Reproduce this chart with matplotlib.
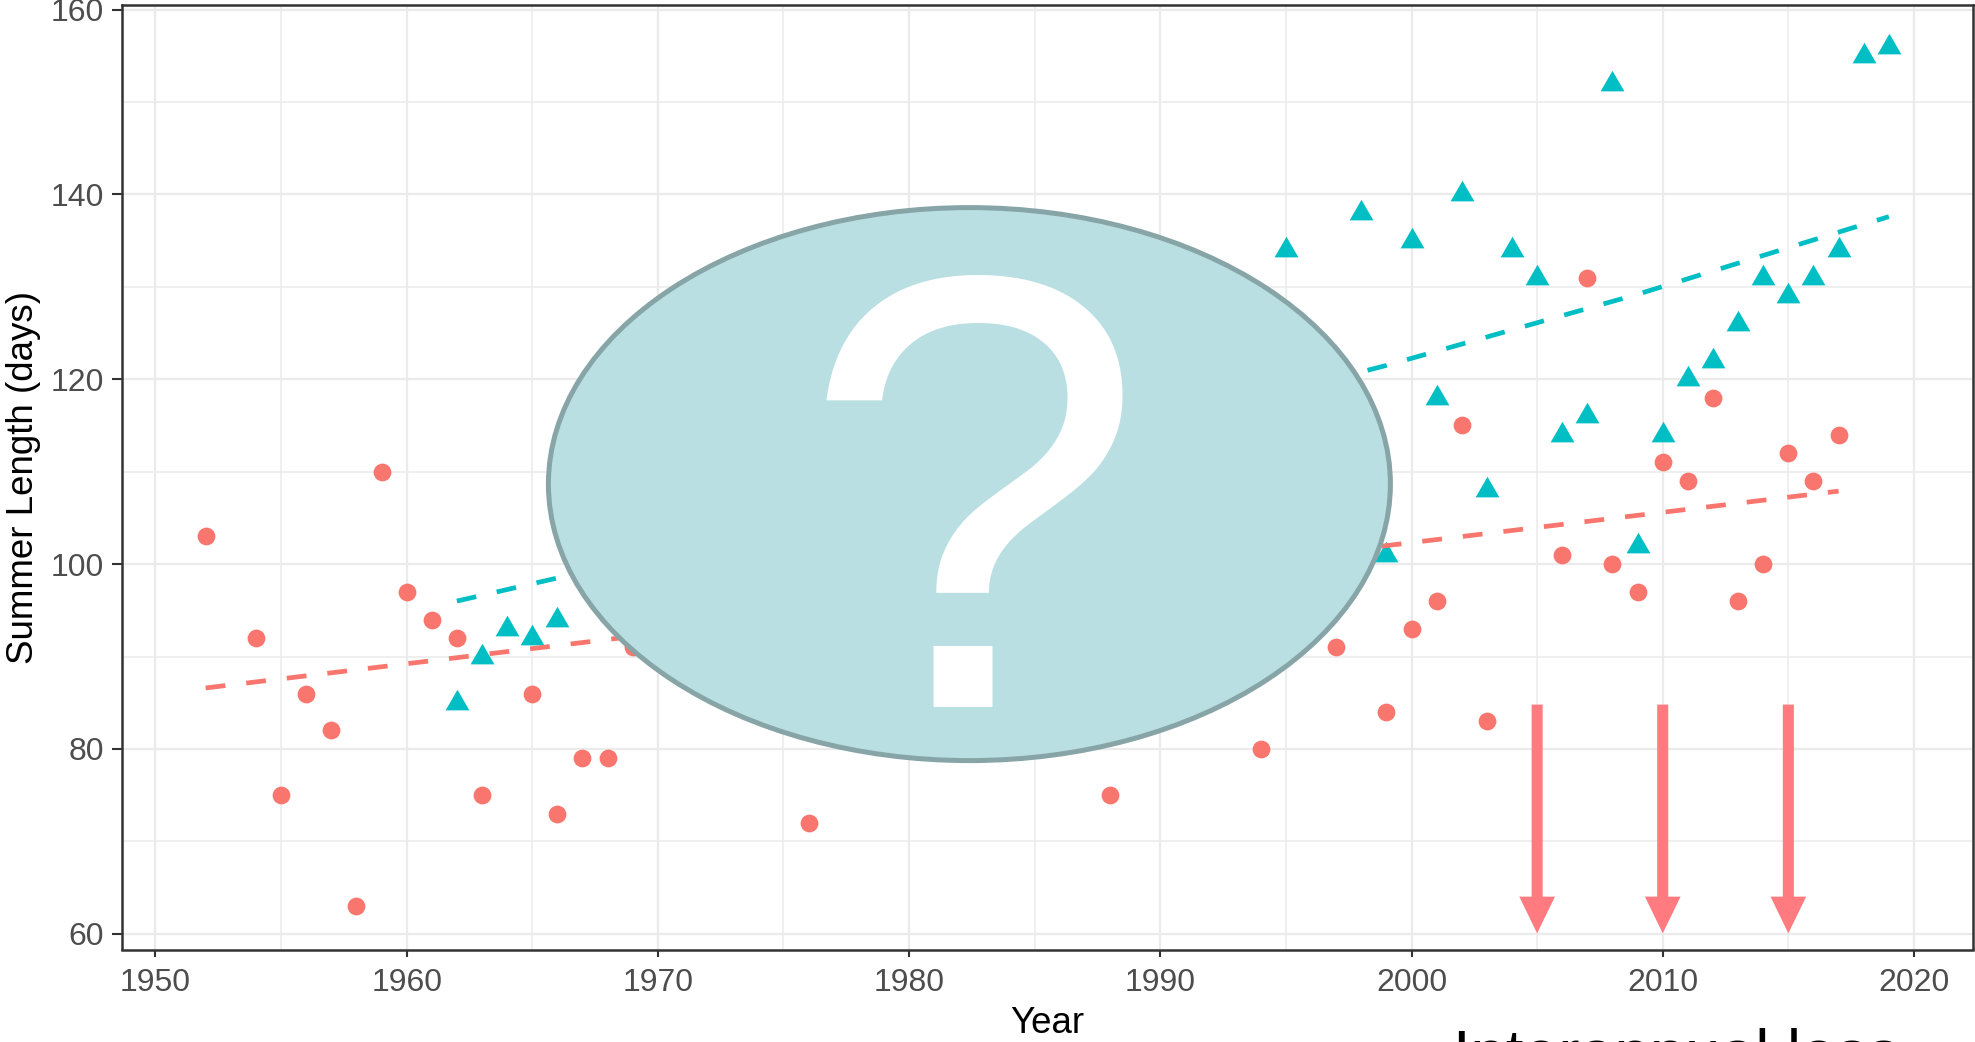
import matplotlib
matplotlib.use('Agg')
import matplotlib.pyplot as plt
from matplotlib.patches import Ellipse

plt.rcParams['font.family'] = ['Liberation Sans', 'DejaVu Sans']

# Summer length per year, two series
red_years = [1952, 1954, 1955, 1956, 1957, 1958, 1959, 1960, 1961, 1962, 1963, 1965,
             1966, 1967, 1968, 1969, 1976, 1988, 1994, 1997, 1999, 2000, 2001, 2002,
             2003, 2006, 2007, 2008, 2009, 2010, 2011, 2012, 2013, 2014, 2015, 2016, 2017]
red_days = [103, 92, 75, 86, 82, 63, 110, 97, 94, 92, 75, 86,
            73, 79, 79, 91, 72, 75, 80, 91, 84, 93, 96, 115,
            83, 101, 131, 100, 97, 111, 109, 118, 96, 100, 112, 109, 114]

teal_years = [1962, 1963, 1964, 1965, 1966, 1995, 1998, 1999, 2000, 2001, 2002, 2003,
              2004, 2005, 2006, 2007, 2008, 2009, 2010, 2011, 2012, 2013, 2014, 2015,
              2016, 2017, 2018, 2019]
teal_days = [85, 90, 93, 92, 94, 134, 138, 101, 135, 118, 140, 108,
             134, 131, 114, 116, 152, 102, 114, 120, 122, 126, 131, 129,
             131, 134, 155, 156]

# trend lines
red_trend_years = [1952, 2017]
red_trend_days = [86.6, 107.9]
teal_trend_years = [1962, 1966, 1999, 2009, 2019]
teal_trend_days = [96.0, 98.5, 121.5, 129.2, 137.6]

# loss arrows
arrow_years = [2005, 2010, 2015]
arrow_top = 84.8
arrow_tip = 60.05

RED = '#F8766D'
TEAL = '#00BFC4'
ARROW = '#FF7B80'
GRID = '#EBEBEB'
DARK = '#333333'

W, H = 1975, 1042
fig = plt.figure(figsize=(W / 100, H / 100), dpi=100)
ax = fig.add_axes([121.5 / W, 1 - 949.5 / H, (1973 - 121.5) / W, (949.5 - 5) / H])

ax.set_xlim(1948.65, 2022.35)
ax.set_ylim(58.3, 160.5)
ax.set_xticks(range(1950, 2021, 10))
ax.set_xticks(range(1955, 2020, 10), minor=True)
ax.set_yticks(range(60, 161, 20))
ax.set_yticks(range(70, 160, 20), minor=True)
ax.grid(True, which='major', color=GRID, lw=1.6)
ax.grid(True, which='minor', color=GRID, lw=1.1)
ax.set_axisbelow(True)
ax.tick_params(which='minor', length=0)
ax.tick_params(axis='x', which='major', length=5, width=1.5, color=DARK,
               labelsize=23, labelcolor='#4D4D4D', pad=8)
ax.tick_params(axis='y', which='major', length=7.5, width=1.5, color=DARK,
               labelsize=23, labelcolor='#4D4D4D', pad=5)
for s in ax.spines.values():
    s.set_color(DARK)
    s.set_linewidth(1.8)

ax.plot(red_years, red_days, ls='none', marker='o', ms=12.8, color=RED, mec='none', zorder=2)
tri = [(0, 1), (-0.866, -0.5), (0.866, -0.5)]
ax.plot(teal_years, teal_days, ls='none', marker=tri, ms=19.8, color=TEAL, mec='none', zorder=2)

dash = (0, (4.2, 4.45))
ax.plot(red_trend_years, red_trend_days, color=RED, lw=3.4, ls=dash, zorder=3)
ax.plot(teal_trend_years, teal_trend_days, color=TEAL, lw=3.4, ls=dash, zorder=3)

for yr in arrow_years:
    ax.arrow(yr, arrow_top, 0, arrow_tip - arrow_top, width=0.44, head_width=1.42,
             head_length=3.97, length_includes_head=True, fc=ARROW, ec='none', zorder=5)

ax.set_xlabel('Year', fontsize=26.5, labelpad=6)
ax.set_ylabel('Summer Length (days)', fontsize=26.5, labelpad=7)

# overlay in pixel space
ov = fig.add_axes([0, 0, 1, 1])
ov.set_xlim(0, W)
ov.set_ylim(H, 0)
ov.axis('off')
ov.add_patch(Ellipse((969.4, 484.1), 842, 553, fc='#B9DFE2', ec='#87A5A7', lw=3.6))
ov.text(972.5, 707, '?', fontsize=446, color='white', ha='center', va='baseline')
ov.text(1453, 1074, 'Interannual loss', fontsize=45.5, color='black',
        ha='left', va='baseline', clip_on=False)

fig.savefig('out.png', dpi=100)
